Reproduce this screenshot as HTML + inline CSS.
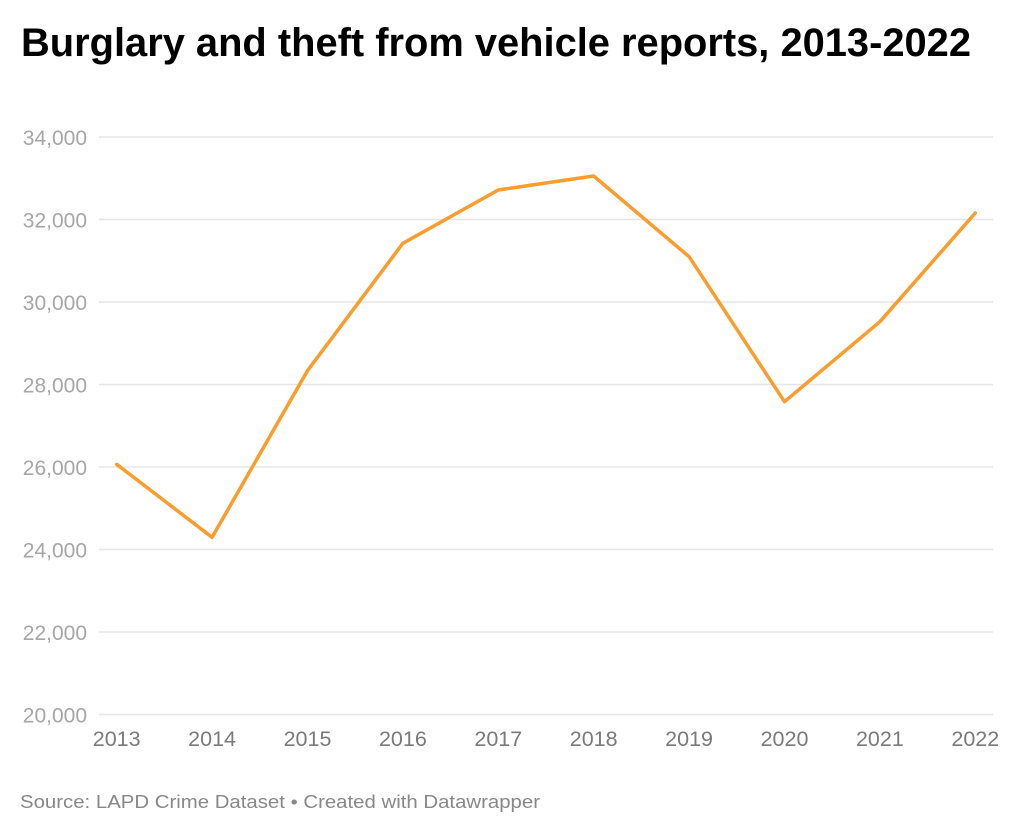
<!DOCTYPE html>
<html>
<head>
<meta charset="utf-8">
<style>
  html, body { margin:0; padding:0; background:#fff; }
  svg { display:block; }
  text { font-family: "Liberation Sans", "DejaVu Sans", sans-serif; }
</style>
</head>
<body>
<svg width="1024" height="834" viewBox="0 0 1024 834" xmlns="http://www.w3.org/2000/svg">
  <rect width="1024" height="834" fill="#ffffff"/>
  <text x="21" y="56" font-size="40" font-weight="bold" fill="#000" textLength="950" lengthAdjust="spacingAndGlyphs">Burglary and theft from vehicle reports, 2013-2022</text>

  <g stroke="#e5e5e5" stroke-width="1.5">
    <line x1="99" y1="137" x2="993" y2="137"/>
    <line x1="99" y1="219.5" x2="993" y2="219.5"/>
    <line x1="99" y1="302" x2="993" y2="302"/>
    <line x1="99" y1="384.5" x2="993" y2="384.5"/>
    <line x1="99" y1="467" x2="993" y2="467"/>
    <line x1="99" y1="549.5" x2="993" y2="549.5"/>
    <line x1="99" y1="632" x2="993" y2="632"/>
    <line x1="99" y1="714.5" x2="993" y2="714.5"/>
  </g>

  <g font-size="21" fill="#a6a6a6" text-anchor="end">
    <text x="87" y="145">34,000</text>
    <text x="87" y="227.5">32,000</text>
    <text x="87" y="310">30,000</text>
    <text x="87" y="392.5">28,000</text>
    <text x="87" y="475">26,000</text>
    <text x="87" y="557.5">24,000</text>
    <text x="87" y="640">22,000</text>
    <text x="87" y="722.5">20,000</text>
  </g>

  <g font-size="21.5" fill="#7a7a7a" text-anchor="middle">
    <text x="116.7" y="746">2013</text>
    <text x="212.1" y="746">2014</text>
    <text x="307.5" y="746">2015</text>
    <text x="402.9" y="746">2016</text>
    <text x="498.3" y="746">2017</text>
    <text x="593.7" y="746">2018</text>
    <text x="689.1" y="746">2019</text>
    <text x="784.5" y="746">2020</text>
    <text x="879.9" y="746">2021</text>
    <text x="975.3" y="746">2022</text>
  </g>

  <polyline fill="none" stroke="#fa9d2c" stroke-width="3.5" stroke-linejoin="round" stroke-linecap="round"
    points="116.7,464.3 212.1,537.3 307.5,370.7 402.9,243.3 498.3,190 593.7,176 689.1,256.7 784.5,401.7 879.9,321.7 975.3,213"/>

  <text x="20" y="808" font-size="18" fill="#888888" textLength="520" lengthAdjust="spacingAndGlyphs">Source: LAPD Crime Dataset • Created with Datawrapper</text>
</svg>
</body>
</html>
